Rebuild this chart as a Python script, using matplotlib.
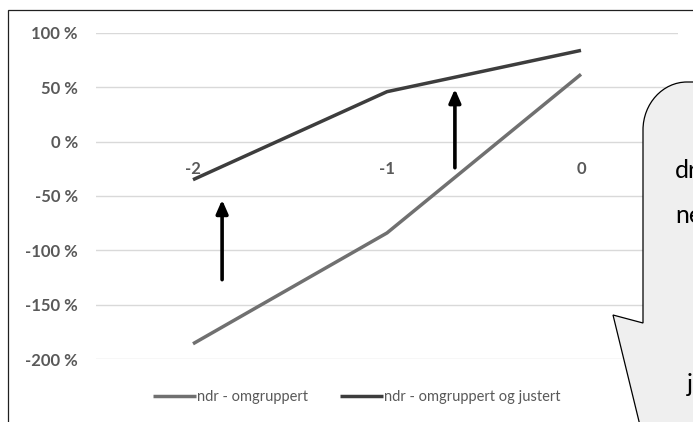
import matplotlib
matplotlib.use('Agg')
import matplotlib.pyplot as plt
from matplotlib.patches import Rectangle, PathPatch
from matplotlib.path import Path
from matplotlib.ticker import FuncFormatter

plt.rcParams['font.family'] = ['Lato', 'DejaVu Sans']

# data
kategorier = ['-2', '-1', '0']
omgruppert = [-186, -84, 62]
justert = [-35, 46, 84]

W, H = 693, 422
fig = plt.figure(figsize=(W / 100, H / 100), dpi=100)

def fx(px):
    return px / W

def fy(py):
    return (H - py) / H

ax = fig.add_axes([fx(96), fy(359), fx(678) - fx(96), fy(33) - fy(359)])

x = list(range(len(kategorier)))
ax.plot(x, omgruppert, color='#707070', lw=2.5, solid_capstyle='butt', label='ndr - omgruppert', zorder=3)
ax.plot(x, justert, color='#3d3d3d', lw=2.5, solid_capstyle='butt', label='ndr - omgruppert og justert', zorder=3)

ax.set_xlim(-0.5, 2.5)
ax.set_ylim(-200, 100)
ax.set_yticks([100, 50, 0, -50, -100, -150, -200])
ax.yaxis.set_major_formatter(FuncFormatter(lambda v, p: '%d %%' % v))
ax.set_xticks(x)
ax.set_xticklabels(kategorier)
ax.grid(axis='y', color='#d9d9d9', lw=1)
ax.set_axisbelow(True)
for s in ['top', 'right', 'left']:
    ax.spines[s].set_visible(False)
ax.spines['bottom'].set_position(('data', 0))
ax.spines['bottom'].set_visible(False)
ax.tick_params(axis='both', length=0, labelcolor='#595959', labelsize=12)
ax.tick_params(axis='y', pad=13)
ax.tick_params(axis='x', pad=14)
for t in ax.get_xticklabels() + ax.get_yticklabels():
    t.set_fontweight('bold')

# pile
for (x0, y0, y1) in [(0.15, -127, -53.5), (1.35, -24, 48.5)]:
    ax.annotate('', xy=(x0, y1), xytext=(x0, y0),
                arrowprops=dict(arrowstyle='-|>,head_width=0.35,head_length=0.8',
                                lw=2.6, color='black', shrinkA=0, shrinkB=0), zorder=4)

leg = fig.legend(loc='center', bbox_to_anchor=(fx(357), fy(397)), ncol=2, frameon=False,
                 handlelength=2.9, handletextpad=0.1, columnspacing=2.2, fontsize=10.5)
for t in leg.get_texts():
    t.set_color('#595959')

# ramme rundt diagrammet
fig.add_artist(Rectangle((fx(8), fy(450)), fx(750) - fx(8), fy(10) - fy(450),
                         transform=fig.transFigure, fill=False, edgecolor='#202020', lw=0.9))

# snakkeboble
rx, ry = 44, 48
k = 0.55
pts = [(643, 323), (643, 82 + ry),
       (643, 82 + ry * (1 - k)), (643 + rx * (1 - k), 82), (643 + rx, 82),
       (720, 82), (720, 450), (646, 450), (613, 315), (643, 323)]
codes = [Path.MOVETO, Path.LINETO, Path.CURVE4, Path.CURVE4, Path.CURVE4,
         Path.LINETO, Path.LINETO, Path.LINETO, Path.LINETO, Path.CLOSEPOLY]
path = Path([(fx(a), fy(b)) for a, b in pts], codes)
fig.add_artist(PathPatch(path, transform=fig.transFigure, facecolor='#efefef',
                         edgecolor='black', lw=0.9, zorder=10))

fig.text(fx(675), fy(178), 'dr', fontsize=18, color='black', va='baseline', zorder=11)
fig.text(fx(675), fy(223), 'ne', fontsize=18, color='black', va='baseline', zorder=11)
fig.text(fx(687), fy(392), 'j', fontsize=18, color='black', va='baseline', zorder=11)

fig.savefig('out.png', dpi=100)
